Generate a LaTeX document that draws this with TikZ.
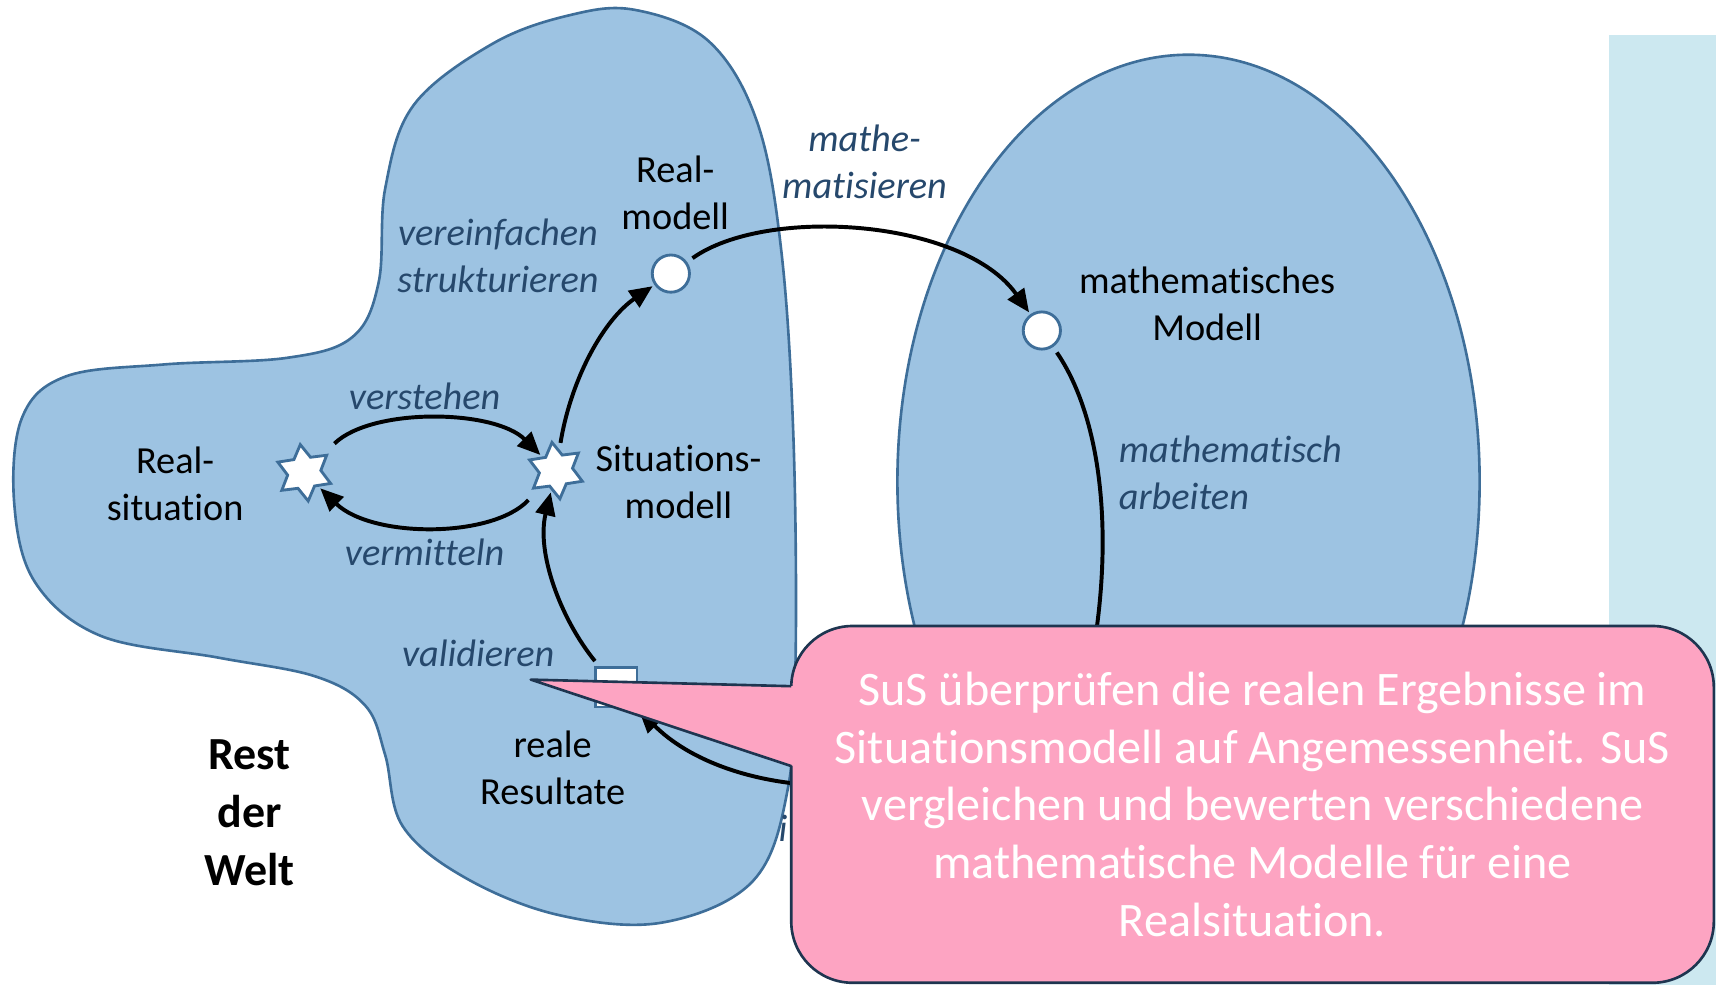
\documentclass[tikz,border=0pt]{standalone}
\usepackage{fontspec}
\setmainfont{Carlito}[Ligatures={NoCommon,NoContextual}, Contextuals=NoAlternate, RawFeature={-dlig}]
\usepackage{tikz}
\usetikzlibrary{shapes,arrows,positioning,calc,arrows.meta}

\definecolor{weltblue}{RGB}{157,195,226}
\definecolor{weltline}{RGB}{62,110,153}
\definecolor{verbblue}{RGB}{38,72,108}
\definecolor{notepink}{RGB}{253,164,194}
\definecolor{noteline}{RGB}{30,53,80}
\definecolor{panelblue}{RGB}{204,232,240}

\begin{document}
\begin{tikzpicture}[x=0.5pt, y=-0.5pt,
    lbl/.style={font=\fontsize{17.5}{21.5}\selectfont, align=center, inner sep=0},
    verb/.style={font=\fontsize{17.5}{21.5}\selectfont\itshape, text=verbblue, align=center, inner sep=0},
    modelnode/.style={circle, draw=weltline, line width=1.3pt, fill=white, minimum size=17pt, inner sep=0},
    sitnode/.style={star, star points=6, star point ratio=1.7, draw=weltline, line width=1.3pt, fill=white, minimum size=26pt, inner sep=0, rotate=8},
    resnode/.style={rectangle, draw=weltline, line width=1.3pt, fill=white, minimum width=19pt, minimum height=18pt, inner sep=0},
    arr/.style={line width=1.8pt, -{Triangle[length=10.5pt, width=9pt]}, shorten <=3pt, shorten >=1pt},
    notebox/.style={rectangle, rounded corners=28pt, draw=noteline, line width=1.2pt, fill=notepink, text=white,
        minimum width=421.5pt, minimum height=163pt, align=center, font=\fontsize{22}{26.3}\selectfont}]
    \useasboundingbox (0,0) rectangle (1568,900);

    % side panel
    \fill[panelblue] (1470,32) rectangle (1568,900);

    % Rest der Welt / reale Welt
    \draw[weltline, line width=1.2pt, fill=weltblue] plot[smooth cycle, tension=0.6] coordinates {
        (580,9) (648,38) (692,112) (714,230) (725,400) (727,600) (720,720) (688,805)
        (605,843) (510,836) (425,802) (368,755) (352,690) (334,645) (288,618) (200,601)
        (92,581) (32,532) (13,460) (20,382) (60,344) (150,333) (262,327) (322,308)
        (346,258) (352,172) (378,96) (450,40) (520,14)};

    % Mathematik
    \draw[weltline, line width=1.2pt, fill=weltblue] (1086,440) ellipse [x radius=133pt, y radius=195pt];

    % Stationen
    \node[sitnode] (realsit) at (278,432) {};
    \node[sitnode] (sitmod) at (508,430) {};
    \node[modelnode] (realmod) at (613,250) {};
    \node[modelnode] (mathmod) at (952,302) {};
    \node[resnode] (result) at (563,628) {};
    \coordinate (mathres) at (985,660);
    \coordinate (interp) at (770,718);

    % Uebergaenge
    \draw[arr, shorten <=7pt] (realsit) .. controls (340,372) and (452,374) .. (sitmod);
    \draw[arr, shorten <=7pt] (sitmod) .. controls (450,492) and (340,492) .. (realsit);
    \draw[arr] (sitmod) .. controls (522,345) and (552,292) .. (realmod);
    \draw[arr] (realmod) .. controls (700,188) and (880,200) .. (mathmod);
    \draw[line width=1.8pt, shorten <=3pt] (mathmod) .. controls (1012,390) and (1022,520) .. (mathres);
    \draw[arr] (result) .. controls (512,565) and (490,505) .. (sitmod);
    \draw[arr] (interp) .. controls (690,718) and (630,695) .. (result);

    % Beschriftungen
    \node[lbl] (realsit-t) at (160,442) {Real-\\situation};
    \node[lbl] (sitmod-t) at (620,440) {Situations-\\modell};
    \node[lbl] (realmod-t) at (617,176) {Real-\\modell};
    \node[lbl] (mathmod-t) at (1103,278) {mathematisches\\Modell};
    \node[lbl] (result-t) at (505,702) {reale\\Resultate};
    \node[verb] (verstehen) at (388,362) {verstehen};
    \node[verb] (vermitteln) at (388,505) {vermitteln};
    \node[verb] (vereinfachen) at (455,234) {vereinfachen\\strukturieren};
    \node[verb] (mathematisieren) at (790,148) {mathe-\\matisieren};
    \node[verb, align=left, anchor=west] (arbeiten) at (1022,432) {mathematisch\\arbeiten};
    \node[verb] (validieren) at (437,597) {validieren};
    \node[verb, anchor=west] (interpretieren) at (711,757) {i};
    \node[lbl, font=\fontsize{21}{26.5}\selectfont\bfseries] (rest) at (228,743) {Rest\\der\\Welt};

    % Notiz
    \node[notebox] (note) at (1144.5,735) {SuS überprüfen die realen Ergebnisse im\\
        Situationsmodell auf Angemessenheit. SuS\\
        vergleichen und bewerten verschiedene\\
        mathematische Modelle für eine\\
        Realsituation.};
    \coordinate (tip) at (485,621);
    \fill[notepink] (tip) -- (725.5,627) -- (725.5,700) -- cycle;
    \draw[noteline, line width=1.2pt, line join=round] (723,627) -- (tip) -- (723,700);
\end{tikzpicture}
\end{document}
